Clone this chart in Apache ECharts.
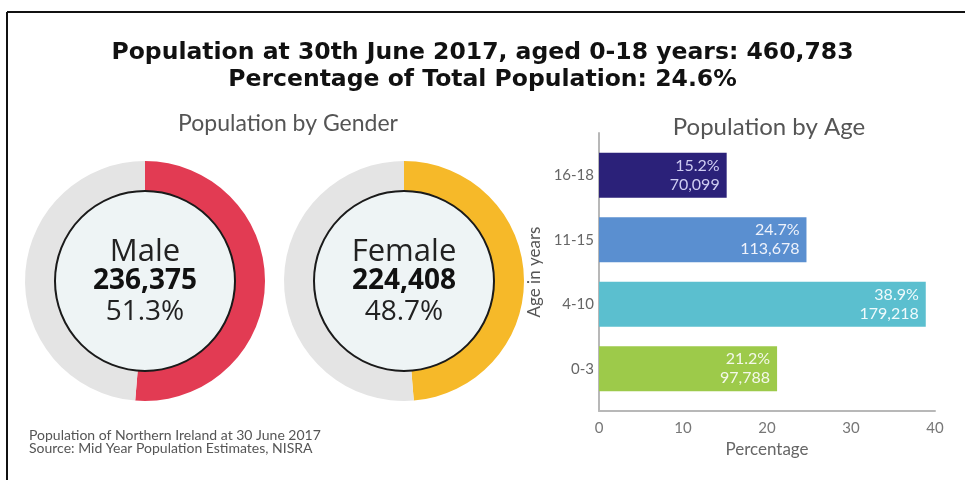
<!DOCTYPE html>
<html>
<head>
<meta charset="utf-8">
<script src="https://cdn.jsdelivr.net/npm/echarts@6/dist/echarts.min.js"></script>
<style>
html,body{margin:0;padding:0;background:#fff;}
#c{width:965px;height:480px;}
</style>
</head>
<body>
<div id="c"></div>
<script>
// ---- data ----
var titleLines = ['Population at 30th June 2017, aged 0-18 years: 460,783', 'Percentage of Total Population: 24.6%'];
var genderNames = ['Male', 'Female'];
var genderCounts = [236375, 224408];
var genderPct = ['51.3%', '48.7%'];
var ageCategories = ['0-3', '4-10', '11-15', '16-18'];
var agePct = [21.2, 38.9, 24.7, 15.2];
var ageCounts = ['97,788', '179,218', '113,678', '70,099'];
var xTicks = [0, 10, 20, 30, 40];
var footnotes = ['Population of Northern Ireland at 30 June 2017', 'Source: Mid Year Population Estimates, NISRA'];

// ---- styles ----
var genderColors = ['#e23b53', '#f6b929'];
var ringGray = '#e4e4e4';
var barColors = ['#9dca4a', '#5bbfcf', '#5a8fd0', '#2b2179'];
var barLabelColors = ['#f4f8ea', '#f0fafc', '#eef2fb', '#cfcdf2'];
var centers = [[145, 281], [404, 281]];

function fmt(n){ return n.toLocaleString('en-US'); }

var series = [];
genderNames.forEach(function(name, i){
  var other = genderCounts[1 - i];
  series.push({
    type: 'pie', silent: true, center: centers[i], radius: [89, 120],
    startAngle: 90, clockwise: true, label: {show: false}, labelLine: {show: false},
    data: [
      {value: genderCounts[i], name: name, itemStyle: {color: genderColors[i]}},
      {value: other, name: 'rest', itemStyle: {color: ringGray}}
    ]
  });
  series.push({
    type: 'pie', silent: true, center: centers[i], radius: [0, 90],
    itemStyle: {color: '#eef4f5', borderColor: '#1a1a1a', borderWidth: 2},
    label: {
      show: true, position: 'center',
      formatter: '{a|' + name + '}\n{b|' + fmt(genderCounts[i]) + '}\n{c|' + genderPct[i] + '}',
      rich: {
        a: {fontFamily: 'Open Sans', fontSize: 31, color: '#222', lineHeight: 32, padding: [4, 0, 0, 0]},
        b: {fontFamily: 'Open Sans', fontSize: 28, fontWeight: 'bold', color: '#111', lineHeight: 31},
        c: {fontFamily: 'Open Sans', fontSize: 28, color: '#222', lineHeight: 31}
      }
    },
    labelLine: {show: false},
    data: [{value: 1, name: name + ' centre'}]
  });
});

series.push({
  type: 'bar', xAxisIndex: 0, yAxisIndex: 0, barWidth: 45,
  data: agePct.map(function(v, i){
    return {
      value: v,
      itemStyle: {color: barColors[i]},
      label: {color: barLabelColors[i]}
    };
  }),
  label: {
    show: true, position: 'insideRight', distance: 7,
    fontFamily: 'Lato', fontSize: 16, lineHeight: 19, align: 'right',
    formatter: function(p){ return p.value.toFixed(1) + '%\n' + ageCounts[p.dataIndex]; }
  }
});

var option = {
  animation: false,
  backgroundColor: '#ffffff',
  title: [
    {text: titleLines.join('\n'), left: 'center', top: 34,
     textStyle: {fontFamily: 'DejaVu Sans', fontSize: 23.5, fontWeight: 'bold', color: '#111', lineHeight: 27}},
    {text: 'Population by Gender', left: 283, top: 107, textAlign: 'center',
     textStyle: {fontFamily: 'Lato', fontSize: 23, fontWeight: 'normal', color: '#555'}},
    {text: 'Population by Age', left: 764, top: 110, textAlign: 'center',
     textStyle: {fontFamily: 'Lato', fontSize: 24, fontWeight: 'normal', color: '#555'}},
    {text: footnotes.join('\n'), left: 29, top: 429, padding: 0,
     textStyle: {fontFamily: 'Lato', fontSize: 14, fontWeight: 'normal', color: '#555', lineHeight: 13}}
  ],
  grid: [
    {left: 599, right: 30, top: 143, bottom: 79},
    {left: 599, right: 30, top: 133, bottom: 69}
  ],
  xAxis: [
    {type: 'value', gridIndex: 0, min: xTicks[0], max: xTicks[xTicks.length - 1], show: false},
    {type: 'value', gridIndex: 1, min: xTicks[0], max: xTicks[xTicks.length - 1], interval: 10,
     axisLine: {show: true, lineStyle: {color: '#b8b8b8', width: 2}},
     axisTick: {show: false}, splitLine: {show: false},
     axisLabel: {fontFamily: 'Lato', fontSize: 15, color: '#777', margin: 10},
     name: 'Percentage', nameLocation: 'middle', nameGap: 30,
     nameTextStyle: {fontFamily: 'Lato', fontSize: 17, color: '#666'}}
  ],
  yAxis: [
    {type: 'category', gridIndex: 0, data: ageCategories,
     axisLine: {show: false}, axisTick: {show: false},
     axisLabel: {fontFamily: 'Lato', fontSize: 15, color: '#666', margin: 5}},
    {type: 'category', gridIndex: 1, data: ageCategories,
     axisLine: {show: true, lineStyle: {color: '#b8b8b8', width: 2}}, axisTick: {show: false},
     axisLabel: {show: false},
     name: 'Age in years', nameLocation: 'middle', nameGap: 56, nameRotate: 90,
     nameTextStyle: {fontFamily: 'Lato', fontSize: 17, color: '#555'}}
  ],
  graphic: [
    {type: 'line', shape: {x1: 7, y1: 12, x2: 965, y2: 12}, style: {stroke: '#111', lineWidth: 2}},
    {type: 'line', shape: {x1: 7, y1: 12, x2: 7, y2: 480}, style: {stroke: '#111', lineWidth: 2}}
  ],
  series: series
};

var chart = echarts.init(document.getElementById('c'), null, {renderer: 'canvas'});
chart.setOption(option);
</script>
</body>
</html>
